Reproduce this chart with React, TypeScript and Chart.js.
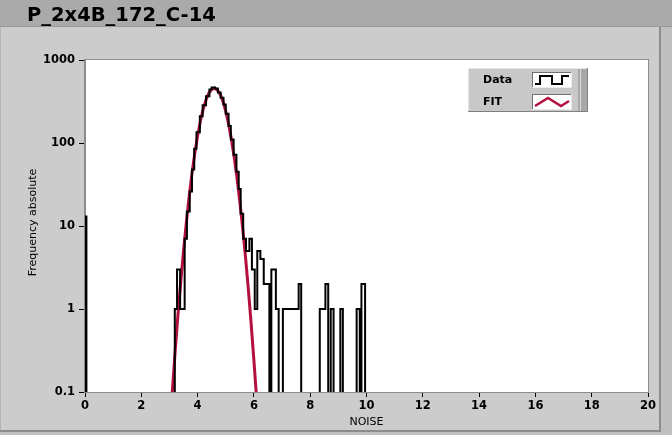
import React, { useEffect, useRef } from 'react';
import { Chart, registerables } from 'chart.js';

Chart.register(...registerables);

const FONT = '"DejaVu Sans", Verdana, sans-serif';

const chartTitle = 'P_2x4B_172_C-14';
const xAxisTitle = 'NOISE';
const yAxisTitle = 'Frequency absolute';
const legendLabels = ['Data', 'FIT'];

const xMin = 0;
const xMax = 20;
const xStep = 2;
const yTickValues = [0.1, 1, 10, 100, 1000];

// Histogram outline: each count holds from its x to the next x
const dataX = [
  0, 0, 0.05,
  3.19, 3.27, 3.38, 3.54, 3.62, 3.72, 3.8, 3.88, 3.96, 4.08, 4.18, 4.3, 4.42, 4.5,
  4.62, 4.72, 4.82, 4.92, 5.0, 5.1, 5.18, 5.28, 5.38, 5.46, 5.53, 5.62, 5.72, 5.84,
  5.93, 6.03, 6.12, 6.23, 6.35, 6.55, 6.62, 6.78, 6.88, 7.03, 7.59, 7.68,
  8.34, 8.54, 8.64, 8.73, 8.83, 9.07, 9.16, 9.65, 9.76, 9.82, 9.95, 20,
];
const dataY = [
  0, 13, 0,
  1, 3, 1, 7, 15, 26, 48, 85, 135, 210, 285, 365, 440, 465,
  455, 405, 350, 290, 225, 160, 110, 72, 45, 28, 14, 7, 5, 7,
  3, 1, 5, 4, 2, 0, 3, 1, 0, 1, 2, 0,
  1, 2, 0, 1, 0, 1, 0, 1, 0, 2, 0, 0,
];

// Gaussian fit curve
const fitX = [
  3.1, 3.2, 3.3, 3.4, 3.5, 3.6, 3.7, 3.8, 3.9, 4.0, 4.1, 4.2, 4.3, 4.4, 4.5, 4.6,
  4.7, 4.8, 4.9, 5.0, 5.1, 5.2, 5.3, 5.4, 5.5, 5.6, 5.7, 5.8, 5.9, 6.0, 6.1, 6.2,
];
const fitY = [
  0.1, 0.3, 0.83, 2.1, 5.0, 11, 22.6, 43, 75, 122, 184, 257, 332, 399, 443, 457,
  437, 387, 318, 242, 170, 111, 67.5, 37.9, 19.7, 9.5, 4.3, 1.77, 0.68, 0.24, 0.08, 0.025,
];

const RED = '#b3103f';
const LOG_FLOOR = 0.01; // zero counts drawn below the visible range

const panelPlugin = {
  id: 'panelPlugin',
  beforeDraw(chart: any) {
    const { ctx, width, height, chartArea: a } = chart;
    ctx.save();
    ctx.fillStyle = '#cccccc';
    ctx.fillRect(0, 0, width, height);
    ctx.fillStyle = '#aaaaaa';
    ctx.fillRect(0, 0, width, 27);
    ctx.fillStyle = '#999999';
    ctx.fillRect(0, 26, width, 1);
    // right / bottom border of the panel
    ctx.fillStyle = '#bfbfbf';
    ctx.fillRect(661, 27, width - 661, height - 27);
    ctx.fillRect(0, 432, width, height - 432);
    ctx.fillStyle = '#8c8c8c';
    ctx.fillRect(659, 27, 2, 405);
    ctx.fillRect(0, 430, 661, 2);
    ctx.fillStyle = '#b4b4b4';
    ctx.fillRect(0, 27, 1, 403);
    // plot background
    ctx.fillStyle = '#ffffff';
    ctx.fillRect(a.left, a.top, a.right - a.left, a.bottom - a.top);
    // title
    ctx.fillStyle = '#000000';
    ctx.font = `bold 19.5px ${FONT}`;
    ctx.textBaseline = 'alphabetic';
    ctx.textAlign = 'left';
    ctx.fillText(chartTitle, 27, 21);
    ctx.restore();
  },
  afterDraw(chart: any) {
    const { ctx, chartArea: a } = chart;
    ctx.save();
    // plot frame
    ctx.strokeStyle = '#8c8c8c';
    ctx.lineWidth = 1;
    ctx.strokeRect(a.left - 0.5, a.top - 0.5, a.right - a.left + 1, a.bottom - a.top + 1);

    // axis titles
    ctx.fillStyle = '#000000';
    ctx.font = `11px ${FONT}`;
    ctx.textAlign = 'center';
    ctx.textBaseline = 'middle';
    ctx.fillText(xAxisTitle, (a.left + a.right) / 2, 422);
    ctx.save();
    ctx.translate(33, 222.5);
    ctx.rotate(-Math.PI / 2);
    ctx.fillText(yAxisTitle, 0, 0);
    ctx.restore();

    // legend
    const lx = 468, ly = 68, lw = 120, lh = 44;
    ctx.fillStyle = '#c8c8c8';
    ctx.fillRect(lx, ly, lw, lh);
    ctx.fillStyle = '#a8a8a8';
    ctx.fillRect(lx + lw - 10, ly, 10, lh);
    ctx.fillStyle = '#dedede';
    ctx.fillRect(lx + lw - 8, ly, 1, lh);
    ctx.fillStyle = '#e6e6e6';
    ctx.fillRect(lx, ly, lw, 1);
    ctx.fillRect(lx, ly, 1, lh);
    ctx.fillStyle = '#808080';
    ctx.fillRect(lx, ly + lh - 1, lw, 1);
    ctx.fillRect(lx + lw - 1, ly, 1, lh);

    const rows = [80, 102];
    ctx.font = `bold 11px ${FONT}`;
    ctx.textAlign = 'left';
    ctx.textBaseline = 'middle';
    legendLabels.forEach((lab, i) => {
      const cy = rows[i];
      ctx.fillStyle = '#000000';
      ctx.fillText(lab, 483, cy + 0.5);
      const bx = 532, by = cy - 8, bw = 40, bh = 16;
      ctx.fillStyle = '#ffffff';
      ctx.fillRect(bx, by, bw, bh);
      ctx.fillStyle = '#707070';
      ctx.fillRect(bx, by, bw, 1);
      ctx.fillRect(bx, by, 1, bh);
      ctx.fillStyle = '#e8e8e8';
      ctx.fillRect(bx, by + bh - 1, bw, 1);
      ctx.fillRect(bx + bw - 1, by, 1, bh);
      ctx.beginPath();
      if (i === 0) {
        ctx.strokeStyle = '#000000';
        ctx.lineWidth = 2;
        ctx.moveTo(bx + 3, by + 12);
        ctx.lineTo(bx + 8, by + 12);
        ctx.lineTo(bx + 8, by + 4);
        ctx.lineTo(bx + 20, by + 4);
        ctx.lineTo(bx + 20, by + 12);
        ctx.lineTo(bx + 30, by + 12);
        ctx.lineTo(bx + 30, by + 4);
        ctx.lineTo(bx + 37, by + 4);
      } else {
        ctx.strokeStyle = RED;
        ctx.lineWidth = 2.5;
        ctx.moveTo(bx + 3, by + 12);
        ctx.lineTo(bx + 16, by + 4);
        ctx.lineTo(bx + 29, by + 12);
        ctx.lineTo(bx + 37, by + 7);
      }
      ctx.stroke();
    });
    ctx.restore();
  },
};

export default function App() {
  const ref = useRef<HTMLCanvasElement>(null);

  useEffect(() => {
    const histPoints = dataX.map((x, i) => ({ x, y: dataY[i] > 0 ? dataY[i] : LOG_FLOOR }));
    const fitPoints = fitX.map((x, i) => ({ x, y: fitY[i] }));
    const tickFont = { family: FONT, size: 11.5, weight: 'bold' as const };

    const chart = new Chart(ref.current as HTMLCanvasElement, {
      type: 'line',
      data: {
        datasets: [
          {
            label: legendLabels[0],
            data: histPoints,
            borderColor: '#000000',
            borderWidth: 2,
            stepped: 'before',
            pointRadius: 0,
            fill: false,
          },
          {
            label: legendLabels[1],
            data: fitPoints,
            borderColor: RED,
            borderWidth: 3,
            pointRadius: 0,
            tension: 0,
            fill: false,
          },
        ],
      },
      options: {
        responsive: false,
        devicePixelRatio: 1,
        animation: false,
        events: [],
        layout: { padding: { left: 0, top: 60, right: 24, bottom: 0 } },
        plugins: {
          legend: { display: false },
          title: { display: false },
          tooltip: { enabled: false },
        },
        scales: {
          x: {
            type: 'linear',
            min: xMin,
            max: xMax,
            ticks: {
              stepSize: xStep,
              autoSkip: false,
              maxRotation: 0,
              color: '#000000',
              font: tickFont,
              padding: 2,
            },
            grid: { drawOnChartArea: false, drawTicks: true, tickLength: 5, tickColor: '#000000' },
            border: { display: true, color: '#8c8c8c', width: 1 },
            afterFit: (s: any) => {
              s.height = 43;
            },
          },
          y: {
            type: 'logarithmic',
            min: yTickValues[0],
            max: yTickValues[yTickValues.length - 1],
            afterBuildTicks: (s: any) => {
              s.ticks = yTickValues.map((v) => ({ value: v }));
            },
            ticks: {
              color: '#000000',
              font: tickFont,
              padding: 4,
              autoSkip: false,
              callback: (v: any) => String(v),
            },
            grid: { drawOnChartArea: false, drawTicks: true, tickLength: 6, tickColor: '#000000' },
            border: { display: true, color: '#8c8c8c', width: 1 },
            afterFit: (s: any) => {
              s.width = 85;
            },
          },
        },
      },
      plugins: [panelPlugin],
    } as any);
    return () => chart.destroy();
  }, []);

  return (
    <div style={{ position: 'absolute', left: 0, top: 0, width: 672, height: 435 }}>
      <canvas ref={ref} width={672} height={435} style={{ display: 'block' }} />
    </div>
  );
}
